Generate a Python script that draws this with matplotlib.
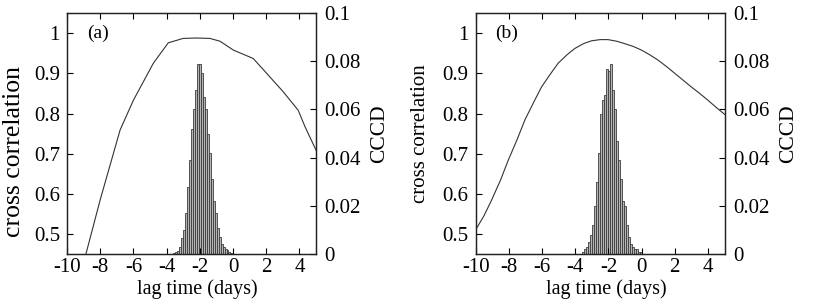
import matplotlib
matplotlib.use("Agg")
import matplotlib.pyplot as plt

plt.rcParams['font.family'] = ['Liberation Serif', 'DejaVu Serif']
plt.rcParams['font.size'] = 15
plt.rcParams['axes.unicode_minus'] = False

# cross correlation curves (lag in days, correlation)
lag_a = [-8.86, -8.0, -6.8, -6.0, -4.8, -3.9, -3.0, -2.2, -1.39, -0.78, 0.02, 1.22, 2.03, 3.03, 3.93, 4.34, 5.0]
cc_a = [0.45, 0.585, 0.759, 0.833, 0.925, 0.976, 0.987, 0.988, 0.987, 0.980, 0.958, 0.937, 0.90, 0.854, 0.808, 0.767, 0.709]

lag_b = [-10.0, -9.5, -9.04, -8.5, -8.03, -7.5, -7.03, -6.5, -6.03, -5.5, -5.03, -4.5, -4.02, -3.5, -3.02,
         -2.5, -2.02, -1.5, -1.02, -0.5, -0.01, 0.5, 0.99, 1.5, 2.0, 2.5, 3.0, 3.5, 4.0, 4.5, 5.0]
cc_b = [0.51, 0.545, 0.584, 0.634, 0.684, 0.735, 0.784, 0.828, 0.866, 0.898, 0.925, 0.946, 0.962, 0.974, 0.981,
        0.984, 0.984, 0.980, 0.974, 0.967, 0.958, 0.946, 0.933, 0.917, 0.90, 0.883, 0.866, 0.850, 0.833, 0.815, 0.798]

# CCCD histograms (bin centres, fraction)
bins_a = [-3.57, -3.45, -3.33, -3.21, -3.09, -2.97, -2.85, -2.73, -2.61, -2.49,
          -2.37, -2.25, -2.13, -2.01, -1.89, -1.77, -1.65, -1.53, -1.41, -1.29,
          -1.17, -1.05, -0.93, -0.81, -0.69, -0.57, -0.45, -0.33, -0.21, -0.09]
cccd_a = [0.0005, 0.0008, 0.0012, 0.003, 0.0065, 0.010, 0.017, 0.028, 0.039, 0.052,
          0.060, 0.068, 0.079, 0.079, 0.075, 0.065, 0.060, 0.050, 0.042, 0.031,
          0.022, 0.017, 0.011, 0.007, 0.004, 0.003, 0.002, 0.0015, 0.001, 0.0005]

bins_b = [-3.54, -3.42, -3.30, -3.18, -3.06, -2.94, -2.82, -2.70, -2.58, -2.46,
          -2.34, -2.22, -2.10, -1.98, -1.86, -1.74, -1.62, -1.50, -1.38, -1.26,
          -1.14, -1.02, -0.90, -0.78, -0.66, -0.54, -0.42, -0.30, -0.18, -0.06]
cccd_b = [0.001, 0.002, 0.003, 0.005, 0.008, 0.012, 0.020, 0.030, 0.042, 0.058,
          0.064, 0.066, 0.077, 0.076, 0.079, 0.068, 0.060, 0.047, 0.039, 0.031,
          0.022, 0.020, 0.012, 0.007, 0.004, 0.003, 0.002, 0.002, 0.001, 0.001]

xticks = [-10, -8, -6, -4, -2, 0, 2, 4]
lticks = [0.5, 0.6, 0.7, 0.8, 0.9, 1.0]
lticklabels = ['0.5', '0.6', '0.7', '0.8', '0.9', '1']
rticks = [0, 0.02, 0.04, 0.06, 0.08, 0.1]
rticklabels = ['0', '0.02', '0.04', '0.06', '0.08', '0.1']

fig = plt.figure(figsize=(8.3, 3.05), dpi=100)

# left, curve, histogram, tag, ylabel size, ylabel x/y (axes coords)
panels = [
    (0.0807, lag_a, cc_a, bins_a, cccd_a, '(a)', 18.5, -0.168, 0.427),
    (0.573, lag_b, cc_b, bins_b, cccd_b, '(b)', 15, -0.183, 0.5),
]

for left, lag, cc, bins, cccd, tag, ysize, ylx, yly in panels:
    ax = fig.add_axes([left, 0.167, 0.300, 0.790])
    ax2 = ax.twinx()
    ax.set_zorder(ax2.get_zorder() + 1)
    ax.patch.set_visible(False)

    ax2.bar(bins, cccd, width=0.12, color='#b4b4b4', edgecolor='#3a3a3a', linewidth=0.6)
    ax2.set_ylim(0, 0.1)
    ax2.set_yticks(rticks)
    ax2.set_yticklabels(rticklabels)
    ax2.set_ylabel('CCCD', fontsize=15.5, labelpad=7)
    ax2.tick_params(direction='in', length=4, width=0.8, pad=6)

    ax.plot(lag, cc, color='#333333', linewidth=0.8)
    ax.set_xlim(-10, 5)
    ax.set_ylim(0.45, 1.05)
    ax.set_xticks(xticks)
    ax.set_yticks(lticks)
    ax.set_yticklabels(lticklabels)
    ax.set_xlabel('lag time (days)', fontsize=14.5)
    ax.xaxis.set_label_coords(0.525, -0.105)
    ax.set_ylabel('cross correlation', fontsize=ysize)
    ax.yaxis.set_label_coords(ylx, yly)
    ax.tick_params(direction='in', length=4, width=0.8, top=True, pad=5)
    ax.tick_params(axis='x', pad=3)
    ax.text(-8.8, 1.0, tag, fontsize=14, ha='left', va='center')
    for a in (ax, ax2):
        for s in a.spines.values():
            s.set_linewidth(0.9)
            s.set_color('#222222')

fig.savefig('out.png', dpi=100)
